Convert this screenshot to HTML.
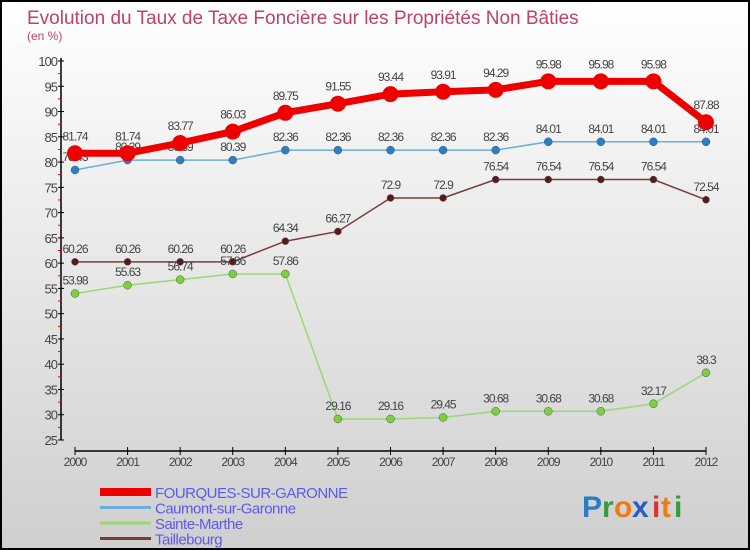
<!DOCTYPE html>
<html><head><meta charset="utf-8"><style>
body{margin:0;width:750px;height:550px;overflow:hidden;font-family:"Liberation Sans",sans-serif}
svg{display:block}
text{font-family:"Liberation Sans",sans-serif}
</style></head><body>
<svg id="chart" width="750" height="550" xmlns="http://www.w3.org/2000/svg">
<defs><linearGradient id="bg" x1="0" y1="0" x2="0" y2="1"><stop offset="0" stop-color="#ffffff"/><stop offset="1" stop-color="#cfcfcf"/></linearGradient></defs>
<rect x="1" y="1" width="748" height="548" fill="url(#bg)" stroke="#000" stroke-width="2"/>
<text x="27" y="24" font-size="19" fill="#c0406a">Evolution du Taux de Taxe Foncière sur les Propriétés Non Bâties</text>
<text x="27" y="40" font-size="12" fill="#c0406a">(en %)</text>
<g id="axes"></g>
<g id="series"></g>
<g id="legend"></g>
<g font-size="30" font-weight="bold">
<text x="582" y="517" fill="#2a7cc7">P</text><text x="602" y="517" fill="#3a9a3a">r</text><text x="614" y="517" fill="#f07a10">o</text><text x="632" y="517" fill="#2a5cc7">x</text><text x="652" y="517" fill="#e03030">i</text><text x="661" y="517" fill="#f07a10">t</text><text x="674" y="517" fill="#3a9a3a">i</text>
</g>
</svg>
<script>
const years=[2000,2001,2002,2003,2004,2005,2006,2007,2008,2009,2010,2011,2012];
const fourques=[81.74,81.74,83.77,86.03,89.75,91.55,93.44,93.91,94.29,95.98,95.98,95.98,87.88];
const caumont=[78.43,80.39,80.39,80.39,82.36,82.36,82.36,82.36,82.36,84.01,84.01,84.01,84.01];
const sainteMarthe=[53.98,55.63,56.74,57.86,57.86,29.16,29.16,29.45,30.68,30.68,30.68,32.17,38.3];
const taillebourg=[60.26,60.26,60.26,60.26,64.34,66.27,72.9,72.9,76.54,76.54,76.54,76.54,72.54];
const yTicks=[25,30,35,40,45,50,55,60,65,70,75,80,85,90,95,100];
const NS="http://www.w3.org/2000/svg";
const X0=75,X1=706,Y0=440,Y1=61,VMIN=25,VMAX=100;
function xs(i){return X0+(X1-X0)*i/(years.length-1);}
function ys(v){return Y0-(v-VMIN)/(VMAX-VMIN)*(Y0-Y1);}
function mk(tag,attrs,parent){const e=document.createElementNS(NS,tag);for(const k in attrs)e.setAttribute(k,attrs[k]);parent.appendChild(e);return e;}
const axes=document.getElementById('axes');
let yl=mk('line',{x1:61,y1:58,x2:61,y2:Y0,stroke:'#000','stroke-width':1.5},axes);


let xl=mk('line',{x1:X0,y1:451,x2:X1,y2:451,stroke:'#000','stroke-width':1.5},axes);


yTicks.forEach(v=>{
 const y=ys(v);
 mk('line',{x1:58,y1:y,x2:64,y2:y,stroke:'#000'},axes);
 if(v<100) mk('line',{x1:58,y1:ys(v+2.5),x2:61,y2:ys(v+2.5),stroke:'#e00'},axes);
 const t=mk('text',{x:57,y:y+5,'font-size':13,fill:'#444','text-anchor':'end','letter-spacing':'-1'},axes);
 t.textContent=v;
 
 
});
years.forEach((yr,i)=>{
 const x=xs(i);
 mk('line',{x1:x,y1:447,x2:x,y2:455,stroke:'#000'},axes);
 const t=mk('text',{x:x,y:466,'font-size':12,fill:'#444','text-anchor':'middle','letter-spacing':'-1'},axes);
 t.textContent=yr;
 
 
});
const series=[
 {name:'taillebourg',label:'Taillebourg',data:taillebourg,color:'#7a3a3a',dot:'#5a1a1a',w:1.5,r:3.5},
 {name:'sainte-marthe',label:'Sainte-Marthe',data:sainteMarthe,color:'#9ad870',dot:'#7cd040',w:1.5,r:4},
 {name:'caumont',label:'Caumont-sur-Garonne',data:caumont,color:'#6aaedc',dot:'#2a80c8',w:1.5,r:4},
 {name:'fourques',label:'FOURQUES-SUR-GARONNE',data:fourques,color:'#ee0000',dot:'#ee0000',w:7,r:8}
];
const sg=document.getElementById('series');
series.forEach(s=>{
 const g=mk('g',{},sg);
 
 
 const p=mk('polyline',{points:s.data.map((v,i)=>xs(i)+','+ys(v)).join(' '),fill:'none',stroke:s.color,'stroke-width':s.w},g);
 
 
 s.data.forEach((v,i)=>{
  const c=mk('circle',{cx:xs(i),cy:ys(v),r:s.r,fill:s.dot,stroke:s.w>2?'none':'#555','stroke-width':0.5},g);
  
  
  const t=mk('text',{x:xs(i),y:ys(v)-(s.w>2?13:9),'font-size':12,fill:'#444','text-anchor':'middle','letter-spacing':'-1'},g);
  t.textContent=v;
  
  
 });
});
const lg=document.getElementById('legend');
[series[3],series[2],series[1],series[0]].forEach((s,i)=>{
 const y=492+i*15.5;
 const g=mk('g',{},lg);
 
 
 mk('line',{x1:100,y1:y,x2:151,y2:y,stroke:s.color,'stroke-width':s.w>2?8:3},g);
 const t=mk('text',{x:155,y:y+6,'font-size':15,fill:'#5a5aee','letter-spacing':'-0.5'},g);
 t.textContent=s.label;
});
</script>
</body></html>
